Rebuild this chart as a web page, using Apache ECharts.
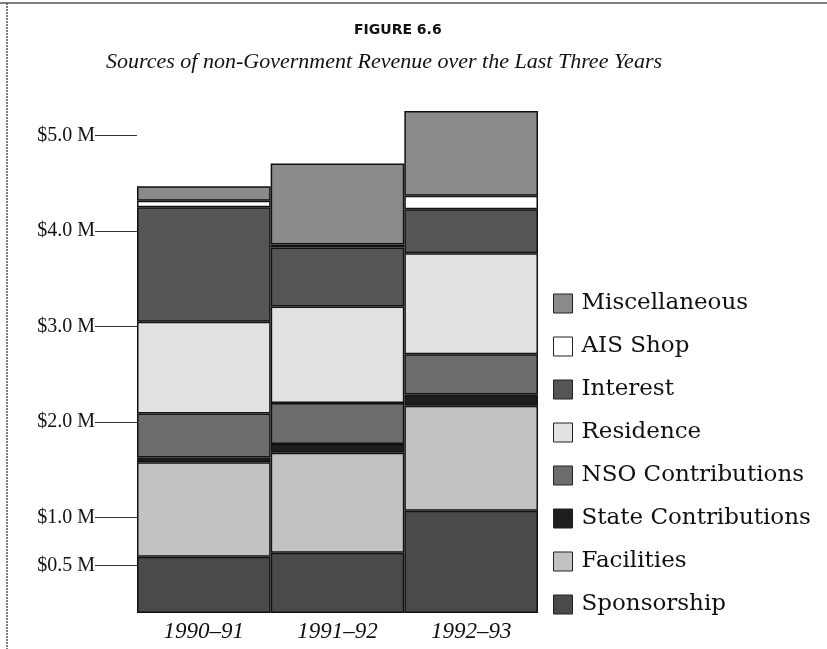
<!DOCTYPE html>
<html>
<head>
<meta charset="utf-8">
<script src="https://cdn.jsdelivr.net/npm/echarts@6/dist/echarts.min.js"></script>
<style>html,body{margin:0;padding:0;background:#fff;}#c{width:827px;height:649px;}</style>
</head>
<body>
<div id="c"></div>
<script>
const categories = ['1990–91', '1991–92', '1992–93'];
const sponsorship = [0.59, 0.63, 1.07];
const facilities = [0.99, 1.05, 1.10];
const stateContributions = [0.05, 0.09, 0.12];
const nsoContributions = [0.46, 0.43, 0.42];
const residence = [0.96, 1.01, 1.06];
const interest = [1.20, 0.62, 0.46];
const aisShop = [0.07, 0.03, 0.14];
const miscellaneous = [0.15, 0.85, 0.89];
const tickValues = [0.5, 1, 2, 3, 4, 5];
const tickLabels = ['$0.5 M', '$1.0 M', '$2.0 M', '$3.0 M', '$4.0 M', '$5.0 M'];
const seriesNames = ['Sponsorship', 'Facilities', 'State Contributions', 'NSO Contributions', 'Residence', 'Interest', 'AIS Shop', 'Miscellaneous'];
const seriesData = [sponsorship, facilities, stateContributions, nsoContributions, residence, interest, aisShop, miscellaneous];
const seriesColors = ['#4a4a4a', '#c2c2c2', '#1e1e1e', '#6c6c6c', '#e2e2e2', '#555555', '#ffffff', '#8a8a8a'];

const chart = echarts.init(document.getElementById('c'));
const serif = 'Liberation Serif';
chart.setOption({
  animation: false,
  backgroundColor: '#fff',
  title: [
    { text: 'FIGURE 6.6', left: 354, top: 23, padding: 0, textStyle: { fontFamily: 'DejaVu Sans', fontWeight: 'bold', fontSize: 14, color: '#111' } },
    { text: 'Sources of non-Government Revenue over the Last Three Years', left: 106, top: 51, padding: 0, textStyle: { fontFamily: serif, fontStyle: 'italic', fontWeight: 'normal', fontSize: 22, color: '#111' } }
  ],
  legend: {
    orient: 'vertical', left: 548, top: 287,
    itemWidth: 19, itemHeight: 19, itemGap: 20,
    icon: 'rect',
    data: seriesNames.slice().reverse(),
    itemStyle: { borderColor: '#222', borderWidth: 1 },
    textStyle: { fontFamily: 'DejaVu Serif', fontSize: 23, color: '#111', padding: [0, 0, 0, 4] }
  },
  grid: { left: 137, right: 289, top: 88, bottom: 36 },
  xAxis: {
    type: 'category', data: categories,
    axisLine: { show: false }, axisTick: { show: false },
    axisLabel: { margin: 7, fontFamily: serif, fontStyle: 'italic', fontSize: 23, color: '#111' }
  },
  yAxis: {
    type: 'value', min: 0, max: 5.5,
    splitLine: { show: false }, axisLine: { show: false },
    axisTick: { show: true, length: 42, customValues: tickValues, lineStyle: { color: '#333', width: 1 } },
    axisLabel: {
      customValues: tickValues, margin: 42, fontFamily: serif, fontSize: 20, color: '#111',
      formatter: v => tickLabels[tickValues.indexOf(v)] || ''
    }
  },
  series: seriesNames.map((n, i) => ({
    name: n, type: 'bar', stack: 'total', data: seriesData[i],
    barCategoryGap: '0%',
    itemStyle: { color: seriesColors[i], borderColor: '#111', borderWidth: 1.5 }
  })),
  graphic: [
    { type: 'line', shape: { x1: 0, y1: 3, x2: 827, y2: 3 }, style: { stroke: '#555', lineWidth: 1.5 } },
    { type: 'line', shape: { x1: 7, y1: 3, x2: 7, y2: 649 }, style: { stroke: '#555', lineWidth: 1.5, lineDash: [2, 1] } }
  ]
});
</script>
</body>
</html>
